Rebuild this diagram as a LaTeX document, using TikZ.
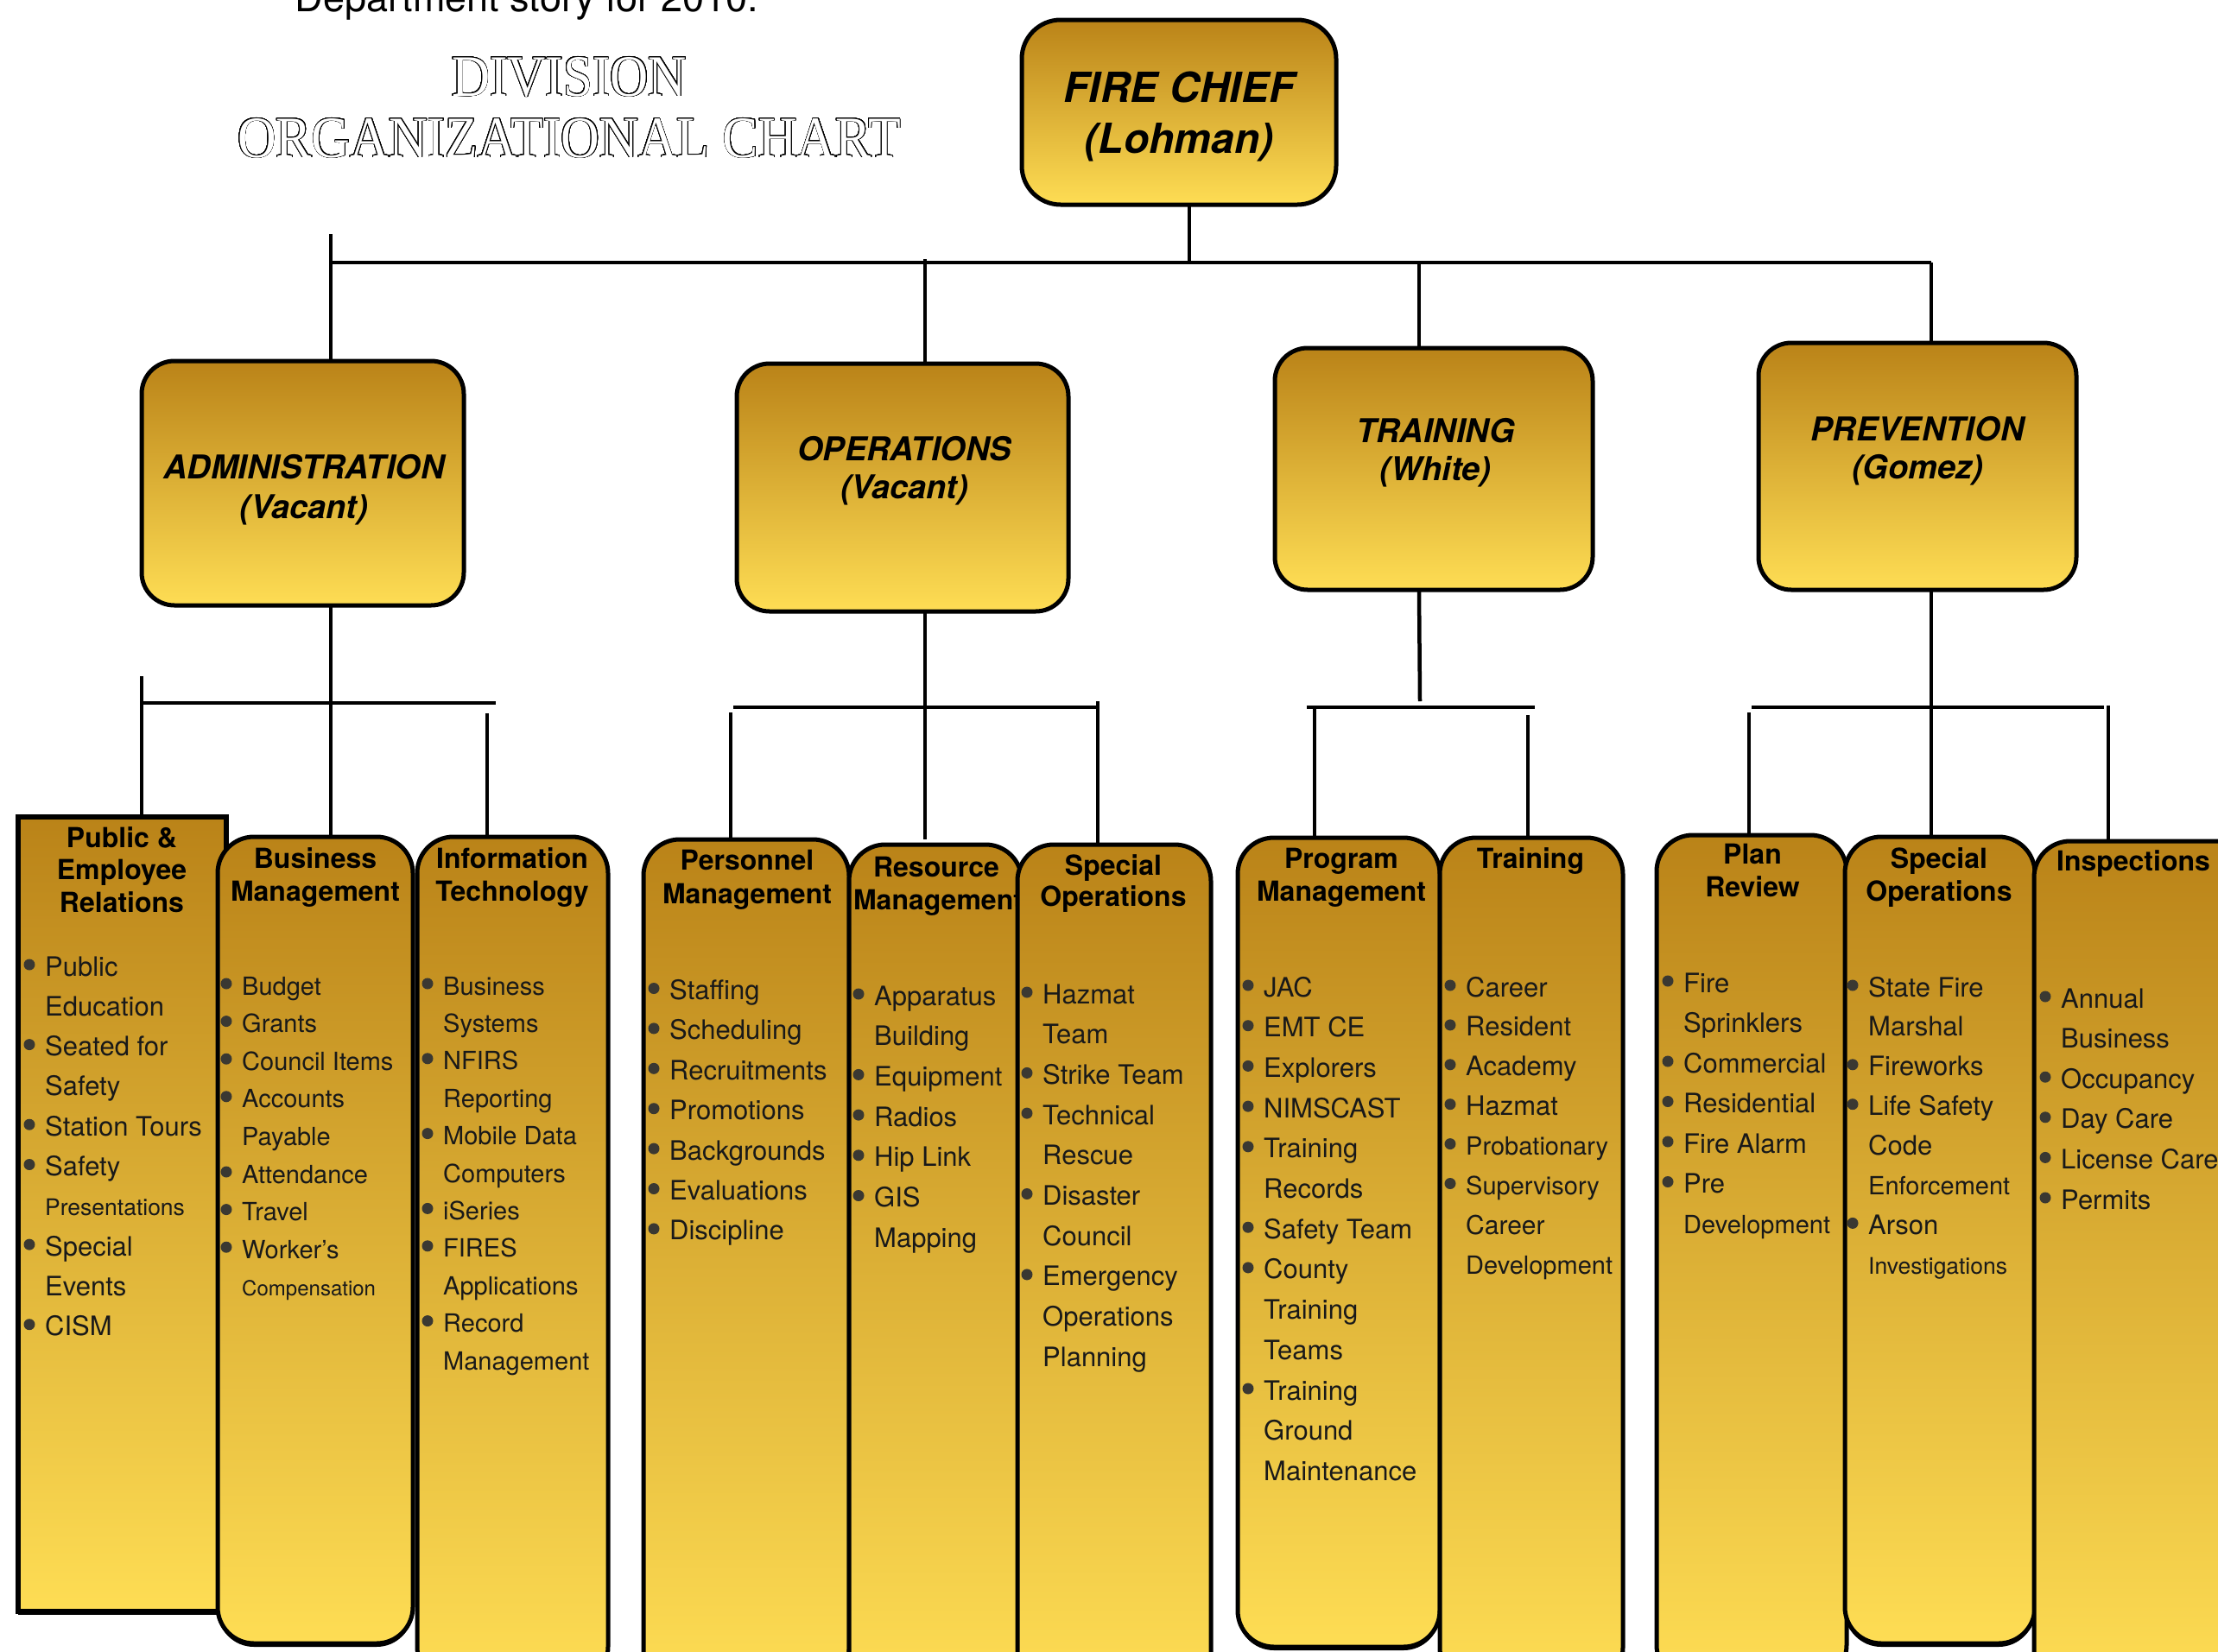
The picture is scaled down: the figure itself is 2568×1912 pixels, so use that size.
\documentclass[tikz,border=0pt]{standalone}
\usepackage{fontspec}
\setmainfont{TeX Gyre Heros}
\newfontfamily\titlefont{Liberation Serif}
\usepackage{graphicx}
\usepackage{contour}
\usetikzlibrary{shadows}
\contourlength{0.9pt}
\contournumber{32}
\definecolor{gtop}{RGB}{186,131,24}
\definecolor{gbot}{RGB}{254,221,84}
\definecolor{bulc}{RGB}{58,56,50}
\def\kb{b}
\newcommand{\itemlist}[5]{%
  \foreach [count=\i] \k/\s/\t in {#5} {%
    \pgfmathsetmacro{\yy}{#3+(\i-1)*#4}%
    \node[itm, font=\fontsize{\s}{\s}\selectfont] (#1-\i) at (#2,\yy) {\t};%
    \ifx\k\kb \fill[bul] (#1-\i.base west) ++(-18,-13) circle (6.5);\fi
  }%
}
\tikzset{
 l1/.style={draw, line width=5pt, rounded corners=45pt, top color=gtop, bottom color=gbot, inner sep=0pt, outer sep=0pt, anchor=north west},
 l2/.style={draw, line width=5pt, rounded corners=38pt, top color=gtop, bottom color=gbot, inner sep=0pt, outer sep=0pt, anchor=north west},
 l3/.style={draw, line width=5pt, rounded corners=42pt, top color=gtop, bottom color=gbot, inner sep=0pt, outer sep=0pt, anchor=north west, drop shadow={shadow xshift=0pt, shadow yshift=-4pt, opacity=1, fill=black}},
 l3sq/.style={l3, sharp corners, line width=6pt},
 t1/.style={font=\bfseries\itshape\fontsize{48}{48}\selectfont, anchor=base, inner sep=0pt},
 t2/.style={font=\bfseries\itshape\fontsize{38}{38}\selectfont, anchor=base, inner sep=0pt},
 hd/.style={font=\bfseries\fontsize{32}{32}\selectfont, anchor=base, inner sep=0pt},
 itm/.style={anchor=base west, inner sep=0pt, text=black!90},
 bul/.style={fill=bulc},
 conn/.style={line width=4.5pt},
 ttl/.style={font=\titlefont\fontsize{68}{68}\selectfont, anchor=base, inner sep=0pt},
}
\begin{document}
\begin{tikzpicture}[x=1pt,y=-1pt]
\fill[white] (0,0) rectangle (2568,1912);
\useasboundingbox (0,0) rectangle (2568,1912);

% titles
\node[font=\fontsize{45}{45}\selectfont, anchor=base, inner sep=0pt] (dept) at (610,13) {Department story for 2010.};
\node[ttl] (tdiv) at (659,111) {\scalebox{0.9}[1]{\color{white}\contour{black}{DIVISION}}};
\node[ttl] (torg) at (659,182) {\scalebox{0.91}[1]{\color{white}\contour{black}{ORGANIZATIONAL CHART}}};

% level 1
\node[l1, minimum width=364pt, minimum height=214pt] (chief) at (1183,23) {};
\node[t1] (chiefA) at (1365,118) {FIRE CHIEF};
\node[t1] (chiefB) at (1365,177) {(Lohman)};

% level 2
\node[l2, minimum width=373pt, minimum height=283pt] (adm) at (164,418) {};
\node[t2] (admA) at (352,554) {ADMINISTRATION};
\node[t2] (admB) at (352,600) {(Vacant)};
\node[l2, minimum width=384pt, minimum height=287pt] (ops) at (853,421) {};
\node[t2] (opsA) at (1047,533) {OPERATIONS};
\node[t2] (opsB) at (1047,577) {(Vacant)};
\node[l2, minimum width=368pt, minimum height=280pt] (trn) at (1476,403) {};
\node[t2] (trnA) at (1662,512) {TRAINING};
\node[t2] (trnB) at (1662,556) {(White)};
\node[l2, minimum width=368pt, minimum height=286pt] (prv) at (2036,397) {};
\node[t2] (prvA) at (2220,510) {PREVENTION};
\node[t2] (prvB) at (2220,554) {(Gomez)};

% level 3 : administration
\node[l3sq, minimum width=241pt, minimum height=920pt] (pub) at (21,946) {};
\node[hd] (pubA) at (141,981.5) {Public \&};
\node[hd] (pubB) at (141,1018.5) {Employee};
\node[hd] (pubC) at (141,1056.5) {Relations};
\itemlist{pubi}{52}{1130}{46.3}{b/31/Public,n/31/Education,b/31/Seated for,n/31/Safety,b/31/Station Tours,b/31/Safety,n/26.5/Presentations,b/31/Special,n/31/Events,b/31/CISM}

\node[l3, minimum width=226pt, minimum height=934pt] (bm) at (252,969) {};
\node[hd] (bmA) at (365,1005.5) {Business};
\node[hd] (bmB) at (365,1043.5) {Management};
\itemlist{bmi}{280}{1152}{43.6}{b/29/Budget,b/29/Grants,b/29/Council Items,b/29/Accounts,n/29/Payable,b/29/Attendance,b/29/Travel,b/29/Worker's,n/24/Compensation}

\node[l3, minimum width=221pt, minimum height=980pt] (it) at (483,969) {};
\node[hd] (itA) at (593,1005.5) {Information};
\node[hd] (itB) at (593,1043.5) {Technology};
\itemlist{iti}{513}{1152}{43.4}{b/29/Business,n/29/Systems,b/29/NFIRS,n/29/Reporting,b/29/Mobile Data,n/29/Computers,b/29/iSeries,b/29/FIRES,n/29/Applications,b/29/Record,n/29/Management}

% level 3 : operations
\node[l3, minimum width=238pt, minimum height=980pt] (pm) at (745,972) {};
\node[hd] (pmA) at (865,1007.5) {Personnel};
\node[hd] (pmB) at (865,1046.5) {Management};
\itemlist{pmi}{775}{1157.5}{46.4}{b/31/Staffing,b/31/Scheduling,b/31/Recruitments,b/31/Promotions,b/31/Backgrounds,b/31/Evaluations,b/31/Discipline}

\node[l3, minimum width=200pt, minimum height=980pt] (rm) at (983,978) {};
\node[hd] (rmA) at (1084,1015.5) {Resource};
\node[hd] (rmB) at (1086,1053.5) {Management};
\itemlist{rmi}{1012}{1164}{46.7}{b/31/Apparatus,n/31/Building,b/31/Equipment,b/31/Radios,b/31/Hip Link,b/31/GIS,n/31/Mapping}

\node[l3, minimum width=224pt, minimum height=980pt] (so) at (1178,978) {};
\node[hd] (soA) at (1289,1013.5) {Special};
\node[hd] (soB) at (1289,1049.5) {Operations};
\itemlist{soi}{1207}{1162}{46.7}{b/31/Hazmat,n/31/Team,b/31/Strike Team,b/31/Technical,n/31/Rescue,b/31/Disaster,n/31/Council,b/31/Emergency,n/31/Operations,n/31/Planning}

% level 3 : training
\node[l3, minimum width=234pt, minimum height=937pt] (pg) at (1433,970) {};
\node[hd] (pgA) at (1553,1005.5) {Program};
\node[hd] (pgB) at (1553,1043.5) {Management};
\itemlist{pgi}{1463}{1154}{46.7}{b/31/JAC,b/31/EMT CE,b/31/Explorers,b/31/NIMSCAST,b/31/Training,n/31/Records,b/31/Safety Team,b/31/County,n/31/Training,n/31/Teams,b/31/Training,n/31/Ground,n/31/Maintenance}

\node[l3, minimum width=212pt, minimum height=980pt] (tr) at (1667,970) {};
\node[hd] (trA) at (1772,1005.5) {Training};
\itemlist{tri}{1697}{1154}{45.9}{b/31/Career,b/31/Resident,b/31/Academy,b/31/Hazmat,b/29/Probationary,b/29/Supervisory,n/30/Career,n/29/Development}

% level 3 : prevention
\node[l3, minimum width=220pt, minimum height=980pt] (pr) at (1918,967) {};
\node[hd] (prA) at (2029,1000.5) {Plan};
\node[hd] (prB) at (2029,1038.5) {Review};
\itemlist{pri}{1949}{1149}{46.5}{b/31/Fire,n/31/Sprinklers,b/31/Commercial,b/31/Residential,b/31/Fire Alarm,b/31/Pre,n/29/Development}

\node[l3, minimum width=220pt, minimum height=934pt] (sp) at (2136,969) {};
\node[hd] (spA) at (2245,1005.5) {Special};
\node[hd] (spB) at (2245,1043.5) {Operations};
\itemlist{spi}{2163}{1154}{45.9}{b/31/State Fire,n/31/Marshal,b/31/Fireworks,b/31/Life Safety,n/31/Code,n/29/Enforcement,b/31/Arson,n/26.5/Investigations}

\node[l3, minimum width=260pt, minimum height=980pt] (ins) at (2355,974) {};
\node[hd] (insA) at (2470,1008.5) {Inspections};
\itemlist{insi}{2386}{1167}{46.6}{b/31/Annual,n/31/Business,b/31/Occupancy,b/31/Day Care,b/31/License Care,b/31/Permits}

% connectors: level 1 -> level 2
\coordinate (busL) at (383,304);
\coordinate (busR) at (2236,304);
\coordinate (chiefDrop) at (1377,304);
\coordinate (admStub) at (383,271);
\coordinate (opsTop) at (1071,300);
\coordinate (trnTop) at (1643,304);
\draw[conn] (busL) -- (busR);
\draw[conn] (chiefDrop |- chief.south) -- (chiefDrop);
\draw[conn] (admStub) -- (admStub |- adm.north);
\draw[conn] (opsTop) -- (opsTop |- ops.north);
\draw[conn] (trnTop) -- (trnTop |- trn.north);
\draw[conn] (busR) -- (busR |- prv.north);

% administration group
\coordinate (admBusL) at (162,814);
\coordinate (admBusR) at (574,814);
\coordinate (pubStub) at (164,783);
\coordinate (itStub) at (564,826);
\draw[conn] (admBusL) -- (admBusR);
\draw[conn] (busL |- adm.south) -- (busL |- bm.north);
\draw[conn] (pubStub) -- (pubStub |- pub.north);
\draw[conn] (itStub) -- (itStub |- it.north);

% operations group
\coordinate (opsBusL) at (849,819);
\coordinate (opsBusR) at (1270,819);
\coordinate (opsEnd) at (1071,972);
\coordinate (pmStub) at (846,825);
\coordinate (soStub) at (1271,812);
\draw[conn] (opsBusL) -- (opsBusR);
\draw[conn] (opsTop |- ops.south) -- (opsEnd);
\draw[conn] (pmStub) -- (pmStub |- pm.north);
\draw[conn] (soStub) -- (soStub |- so.north);

% training group
\coordinate (trnBusL) at (1513,819);
\coordinate (trnBusR) at (1777,819);
\coordinate (trnEnd) at (1644,812);
\coordinate (pgStub) at (1522,819);
\coordinate (trStub) at (1769,828);
\draw[conn] (trnBusL) -- (trnBusR);
\draw[conn] (trnTop |- trn.south) -- (trnEnd);
\draw[conn] (pgStub) -- (pgStub |- pg.north);
\draw[conn] (trStub) -- (trStub |- tr.north);

% prevention group
\coordinate (prvBusL) at (2028,819);
\coordinate (prvBusR) at (2436,819);
\coordinate (prStub) at (2025,825);
\coordinate (inStub) at (2441,817);
\draw[conn] (prvBusL) -- (prvBusR);
\draw[conn] (busR |- prv.south) -- (busR |- sp.north);
\draw[conn] (prStub) -- (prStub |- pr.north);
\draw[conn] (inStub) -- (inStub |- ins.north);
\end{tikzpicture}
\end{document}
